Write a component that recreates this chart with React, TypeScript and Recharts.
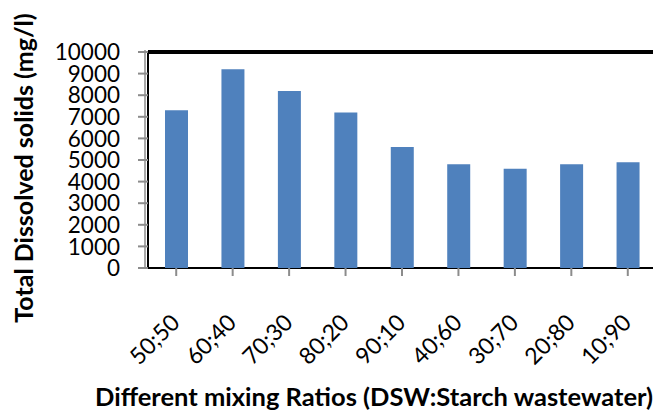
import { Bar, BarChart, ReferenceLine, XAxis, YAxis, usePlotArea } from "recharts";

const ratios = ["50;50", "60;40", "70;30", "80;20", "90;10", "40;60", "30;70", "20;80", "10;90"];
const tdsValues = [7300, 9200, 8200, 7200, 5600, 4800, 4600, 4800, 4900];
const yTicks = [0, 1000, 2000, 3000, 4000, 5000, 6000, 7000, 8000, 9000, 10000];

const data = ratios.map((ratio, i) => ({ ratio, tds: tdsValues[i] }));

const FONT = "Lato, 'Open Sans', sans-serif";

// plot frame: gray axis line next to a black border, heavy top edge
function PlotFrame() {
  const area = usePlotArea();
  if (!area) return null;
  const { x, y, width, height } = area;
  return (
    <g>
      <line x1={x - 3} y1={y - 2} x2={x - 3} y2={y + height} stroke="#8c8c8c" strokeWidth={1.5} />
      <line x1={x} y1={y} x2={x} y2={y + height} stroke="#000" strokeWidth={2} />
      <line x1={x} y1={y + height} x2={x + width} y2={y + height} stroke="#000" strokeWidth={2} />
    </g>
  );
}

function XTick(props: any) {
  const { x, y, payload } = props;
  const tx = x + 5;
  const ty = y + 46;
  return (
    <text
      x={tx}
      y={ty}
      textAnchor="end"
      transform={`rotate(-45, ${tx}, ${ty})`}
      fontFamily={FONT}
      fontSize={23}
      fill="#000"
    >
      {payload.value}
    </text>
  );
}

function YTick(props: any) {
  const { x, y, payload } = props;
  return (
    <text x={x - 16} y={y} dy="0.36em" textAnchor="end" fontFamily={FONT} fontSize={22.5} fill="#000">
      {payload.value}
    </text>
  );
}

export default function App() {
  return (
    <div
      style={{
        position: "absolute",
        left: 0,
        top: 0,
        width: 653,
        height: 410,
        overflow: "hidden",
        background: "#fff",
      }}
    >
      <BarChart
        width={660}
        height={410}
        data={data}
        margin={{ top: 52, right: 4, bottom: 0, left: 0 }}
        barSize={23}
      >
        <XAxis
          dataKey="ratio"
          tick={<XTick />}
          tickLine={{ stroke: "#8c8c8c", strokeWidth: 2 }}
          tickSize={8}
          axisLine={false}
          interval={0}
          height={142}
          label={{
            content: (p: any) => {
              const vb = p.viewBox;
              return (
                <text
                  x={vb.x + vb.width / 2 - 28}
                  y={vb.y + 138}
                  textAnchor="middle"
                  fontFamily={FONT}
                  fontWeight="bold"
                  fontSize={25.5}
                  fill="#000"
                >
                  Different mixing Ratios (DSW:Starch wastewater)
                </text>
              );
            },
          }}
        />
        <YAxis
          domain={[0, 10000]}
          ticks={yTicks}
          interval={0}
          width={148}
          tick={<YTick />}
          tickLine={{ stroke: "#8c8c8c", strokeWidth: 2 }}
          tickSize={10}
          axisLine={false}
          label={{
            content: (p: any) => {
              const vb = p.viewBox;
              const lx = vb.x + 33;
              const ly = vb.y + vb.height / 2 + 8;
              return (
                <text
                  x={lx}
                  y={ly}
                  textAnchor="middle"
                  transform={`rotate(-90, ${lx}, ${ly})`}
                  fontFamily={FONT}
                  fontWeight="bold"
                  fontSize={25}
                  fill="#000"
                >
                  Total Dissolved solids (mg/l)
                </text>
              );
            },
          }}
        />
        <Bar dataKey="tds" fill="#4f81bd" isAnimationActive={false} />
        <ReferenceLine y={10000} stroke="#000" strokeWidth={4} />
        <PlotFrame />
      </BarChart>
    </div>
  );
}
